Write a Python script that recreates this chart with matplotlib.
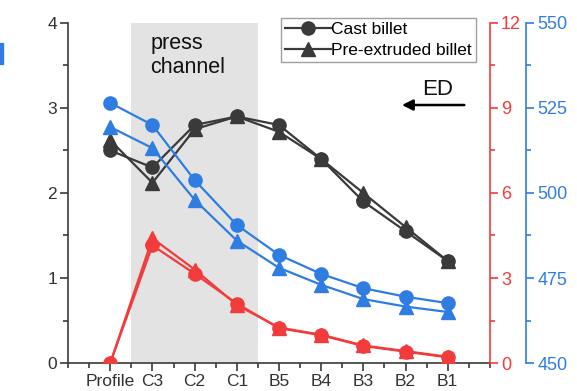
import numpy as np
import matplotlib
matplotlib.use('Agg')
import matplotlib.pyplot as plt
from matplotlib.patches import Rectangle
from matplotlib.ticker import MultipleLocator

plt.rcParams['font.family'] = ['Liberation Sans', 'DejaVu Sans']
plt.rcParams['font.size'] = 12.5

positions = ['Profile', 'C3', 'C2', 'C1', 'B5', 'B4', 'B3', 'B2', 'B1']

# left axis (black)
cast_left = [2.5, 2.3, 2.8, 2.9, 2.8, 2.4, 1.9, 1.55, 1.2]
pre_left = [2.62, 2.12, 2.75, 2.9, 2.72, 2.4, 2.0, 1.6, 1.2]
# right axis (red)
cast_red = [0.0, 4.15, 3.15, 2.1, 1.23, 0.98, 0.6, 0.4, 0.2]
pre_red = [0.0, 4.4, 3.3, 2.05, 1.25, 1.0, 0.62, 0.42, 0.22]
# outer right axis (blue)
cast_blue = [526.5, 520.0, 503.8, 490.6, 481.8, 476.2, 472.0, 469.5, 467.6]
pre_blue = [519.4, 513.2, 498.0, 486.0, 478.0, 473.0, 468.8, 466.6, 465.0]

c_dark = '#3a3a3a'
c_red = '#f23c3c'
c_blue = '#2f7de1'

x = np.arange(len(positions))

fig = plt.figure(figsize=(5.77, 3.91), dpi=100)
ax = fig.add_axes([0.118, 0.0716, 0.731, 0.8696])
ax_r = ax.twinx()
ax_b = ax.twinx()
ax_b.spines['right'].set_position(('axes', 1.086))

# press channel region
ax.axvspan(0.5, 3.5, color='#e3e3e3', zorder=0, lw=0)

kw = dict(lw=1.6, ms=9.5)
ax.plot(x, cast_left, '-o', color=c_dark, label='Cast billet', **kw)
ax.plot(x, pre_left, '-^', color=c_dark, label='Pre-extruded billet', **kw)
ax_r.plot(x, cast_red, '-o', color=c_red, **kw)
ax_r.plot(x, pre_red, '-^', color=c_red, **kw)
ax_b.plot(x, cast_blue, '-o', color=c_blue, **kw)
ax_b.plot(x, pre_blue, '-^', color=c_blue, **kw)

ax.set_xlim(-1, 9)
ax.set_ylim(0, 4)
ax_r.set_ylim(0, 12)
ax_b.set_ylim(450, 550)

ax.set_xticks(x)
ax.set_xticklabels(positions)
ax.xaxis.set_minor_locator(MultipleLocator(0.5))
ax.yaxis.set_major_locator(MultipleLocator(1))
ax.yaxis.set_minor_locator(MultipleLocator(0.5))
ax_r.yaxis.set_major_locator(MultipleLocator(3))
ax_r.yaxis.set_minor_locator(MultipleLocator(1.5))
ax_b.yaxis.set_major_locator(MultipleLocator(25))
ax_b.yaxis.set_minor_locator(MultipleLocator(12.5))

for a in (ax, ax_r, ax_b):
    a.spines['top'].set_visible(False)
    a.tick_params(which='major', direction='out', length=6, width=1.2, pad=2)
    a.tick_params(which='minor', direction='out', length=3.5, width=1.2)

for a in (ax_r, ax_b):
    a.spines['left'].set_visible(False)
    a.spines['bottom'].set_visible(False)
    a.tick_params(axis='y', labelsize=13)
ax.spines['right'].set_visible(False)
ax_b.spines['right'].set_visible(True)

ax.spines['left'].set_color(c_dark)
ax.spines['bottom'].set_color(c_dark)
ax.spines['left'].set_linewidth(1.2)
ax.spines['bottom'].set_linewidth(1.2)
ax.tick_params(axis='both', which='both', colors=c_dark)
ax.tick_params(axis='both', labelcolor='#333333')

ax_r.spines['right'].set_color(c_red)
ax_r.spines['right'].set_linewidth(1.2)
ax_r.tick_params(axis='y', which='both', colors=c_red)

ax_b.spines['right'].set_color(c_blue)
ax_b.spines['right'].set_linewidth(1.2)
ax_b.tick_params(axis='y', which='both', colors=c_blue)

for a in (ax_r, ax_b):
    a.set_zorder(ax.get_zorder() + 1)
    a.patch.set_visible(False)

leg = ax_b.legend(*ax.get_legend_handles_labels(), loc='upper left',
                  bbox_to_anchor=(0.505, 1.015), frameon=True, fancybox=False,
                  handlelength=2.6, handletextpad=0.0, borderpad=0.25,
                  labelspacing=0.3, borderaxespad=0, fontsize=12.5)
leg.get_frame().set_edgecolor('#888888')
leg.get_frame().set_linewidth(1.0)

ax.text(0.95, 3.88, 'press\nchannel', ha='left', va='top', fontsize=15.5,
        color='#111111', linespacing=1.15)
ax.text(7.75, 3.22, 'ED', ha='center', va='center', fontsize=16, color='#111111')
ax.annotate('', xy=(6.85, 3.035), xytext=(8.46, 3.035),
            arrowprops=dict(arrowstyle='-|>', color='black', lw=1.8,
                            mutation_scale=16))

# small blue bar on the left margin
fig.patches.append(Rectangle((0, 1 - 64 / 391), 3 / 577, 21 / 391,
                             transform=fig.transFigure, color=c_blue))

fig.savefig('out.png', dpi=100)
